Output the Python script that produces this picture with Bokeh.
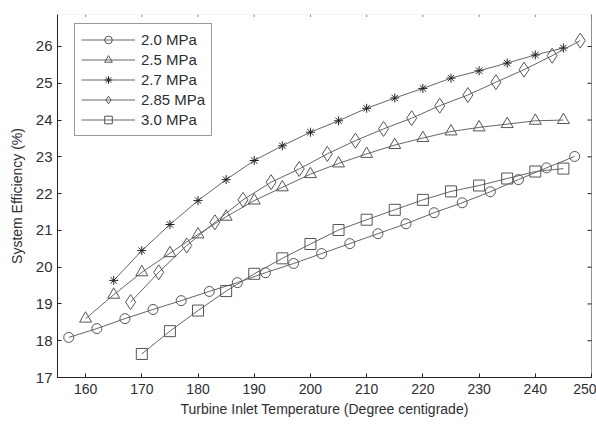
import math
from bokeh.plotting import figure
from bokeh.models import Range1d, Legend, LegendItem, FixedTicker, Span
from bokeh.embed import file_html
from bokeh.resources import INLINE

# ---- data ----
t_20 = [157, 162, 167, 172, 177, 182, 187, 192, 197, 202, 207, 212, 217, 222, 227, 232, 237, 242, 247]
e_20 = [18.09, 18.33, 18.60, 18.85, 19.09, 19.34, 19.58, 19.85, 20.10, 20.37, 20.64, 20.91, 21.18, 21.48, 21.75, 22.05, 22.38, 22.70, 23.01]

t_25 = [160, 165, 170, 175, 180, 185, 190, 195, 200, 205, 210, 215, 220, 225, 230, 235, 240, 245]
e_25 = [18.60, 19.25, 19.86, 20.38, 20.89, 21.37, 21.81, 22.17, 22.53, 22.82, 23.08, 23.32, 23.51, 23.69, 23.80, 23.89, 23.98, 24.00]

t_27 = [165, 170, 175, 180, 185, 190, 195, 200, 205, 210, 215, 220, 225, 230, 235, 240, 245]
e_27 = [19.64, 20.45, 21.16, 21.81, 22.38, 22.90, 23.30, 23.67, 23.98, 24.32, 24.60, 24.86, 25.14, 25.34, 25.55, 25.77, 25.96]

t_285 = [168, 173, 178, 183, 188, 193, 198, 203, 208, 213, 218, 223, 228, 233, 238, 243, 248]
e_285 = [19.05, 19.86, 20.59, 21.22, 21.83, 22.31, 22.67, 23.08, 23.44, 23.76, 24.05, 24.39, 24.68, 25.03, 25.37, 25.75, 26.16]

t_30 = [170, 175, 180, 185, 190, 195, 200, 205, 210, 215, 220, 225, 230, 235, 240, 245]
e_30 = [17.64, 18.26, 18.82, 19.35, 19.82, 20.24, 20.63, 21.01, 21.29, 21.56, 21.83, 22.06, 22.22, 22.41, 22.60, 22.68]

series_labels = ["2.0 MPa", "2.5 MPa", "2.7 MPa", "2.85 MPa", "3.0 MPa"]
x_ticks = [160, 170, 180, 190, 200, 210, 220, 230, 240, 250]
y_ticks = [17, 18, 19, 20, 21, 22, 23, 24, 25, 26]
X_MIN, X_MAX = 155, 250
Y_MIN, Y_MAX = 17, 26.87

FONT = "Liberation Sans"
TXT = "#2e2e33"
AX = "#222222"

p = figure(width=596, height=424,
           x_range=Range1d(X_MIN, X_MAX), y_range=Range1d(Y_MIN, Y_MAX),
           output_backend="svg", toolbar_location=None,
           min_border_left=57, min_border_right=5,
           min_border_top=14, min_border_bottom=47)
p.background_fill_color = "white"
p.border_fill_color = "white"
p.outline_line_color = None
p.xgrid.visible = False
p.ygrid.visible = False

for ax, ticks in ((p.xaxis[0], x_ticks), (p.yaxis[0], y_ticks)):
    ax.ticker = FixedTicker(ticks=ticks)
    ax.axis_line_color = AX
    ax.axis_line_width = 1
    ax.major_tick_in = 4
    ax.major_tick_out = 0
    ax.major_tick_line_color = AX
    ax.minor_tick_line_color = None
    ax.major_label_text_font = FONT
    ax.major_label_text_font_size = "14px"
    ax.major_label_text_color = TXT
    ax.axis_label_text_font = FONT
    ax.axis_label_text_font_size = "14px"
    ax.axis_label_text_font_style = "normal"
    ax.axis_label_text_color = TXT

p.yaxis[0].major_label_text_font_size = "15px"
p.xaxis[0].major_label_standoff = 6
p.yaxis[0].major_label_standoff = 5
p.xaxis[0].axis_label = "Turbine Inlet Temperature (Degree centigrade)"
p.yaxis[0].axis_label = "System Efficiency (%)"
p.xaxis[0].axis_label_standoff = 4
p.yaxis[0].axis_label_standoff = 8

# right frame line (dark) and top frame line (faded in the reference)
p.add_layout(Span(location=X_MAX, dimension="height", line_color=AX, line_width=1))
p.add_layout(Span(location=Y_MAX, dimension="width", line_color="#e4e4e4", line_width=1))

# inward ticks on the right and top edges (half of each dash is clipped by the frame)
p.scatter([X_MAX] * len(y_ticks), y_ticks, marker="dash", size=8,
          line_color=AX, line_width=1)
p.scatter(x_ticks, [Y_MAX] * len(x_ticks), marker="dash", size=5, angle=math.pi / 2,
          line_color="#888888", line_width=1)

LINE = "#666666"
specs = [
    (t_20, e_20, "circle", 10, "#555555"),
    (t_25, e_25, "triangle", 12, "#555555"),
    (t_27, e_27, "asterisk", 9, "#222222"),
    (t_285, e_285, "diamond", 15, "#555555"),
    (t_30, e_30, "square", 11, "#555555"),
]
items = []
for (xs, ys, mk, sz, mc), lab in zip(specs, series_labels):
    r1 = p.line(xs, ys, line_color=LINE, line_width=1)
    r2 = p.scatter(xs, ys, marker=mk, size=sz, fill_color=None,
                   line_color=mc, line_width=1)
    items.append(LegendItem(label=lab, renderers=[r1, r2]))

legend = Legend(items=items, location=(17, 241))
legend.label_text_font = FONT
legend.label_text_font_size = "15px"
legend.label_text_color = TXT
legend.border_line_color = "#333333"
legend.border_line_width = 1
legend.background_fill_color = "white"
legend.background_fill_alpha = 1
legend.padding = 6
legend.spacing = 1
legend.glyph_height = 19
legend.label_height = 19
legend.glyph_width = 54
legend.label_standoff = 6
legend.margin = 0
p.add_layout(legend, "center")

open("out.html", "w").write(file_html(p, INLINE))
